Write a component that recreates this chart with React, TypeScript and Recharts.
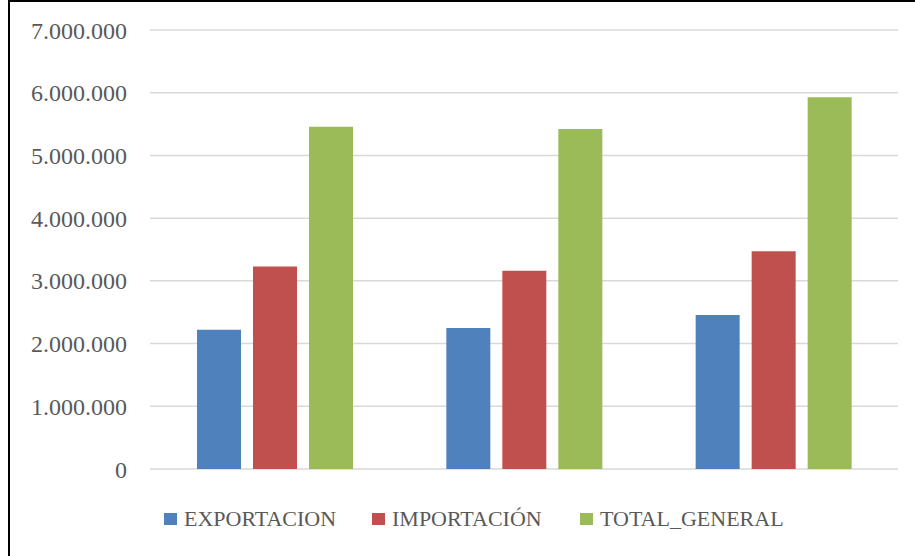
import React from 'react';
import { BarChart, Bar, XAxis, YAxis, CartesianGrid, Legend } from 'recharts';

const categories = ['Grupo 1', 'Grupo 2', 'Grupo 3'];
const exportacion = [2219000, 2250000, 2454000];
const importacion = [3227000, 3160000, 3472000];
const totalGeneral = [5456000, 5420000, 5926000];
const yTicks = [0, 1000000, 2000000, 3000000, 4000000, 5000000, 6000000, 7000000];

const series = [
  { key: 'EXPORTACION', color: '#4F81BD', values: exportacion },
  { key: 'IMPORTACIÓN', color: '#C0504D', values: importacion },
  { key: 'TOTAL_GENERAL', color: '#9BBB59', values: totalGeneral },
];

const data = categories.map((name, i) => {
  const row: { [k: string]: string | number } = { name };
  series.forEach(s => {
    row[s.key] = s.values[i];
  });
  return row;
});

const FONT = '"Liberation Serif", "Times New Roman", serif';
const TEXT = '#595959';

const formatNumber = (v: number) => v.toLocaleString('de-DE');

const LegendContent = ({ payload }: any) => (
  <div style={{ display: 'flex', alignItems: 'center', height: 26 }}>
    {(payload || []).map((entry: any) => (
      <div key={entry.value} style={{ display: 'flex', alignItems: 'center', width: 208 }}>
        <span style={{ width: 13, height: 12, backgroundColor: entry.color, marginRight: 7, display: 'inline-block' }} />
        <span style={{ fontFamily: FONT, fontSize: 22, color: TEXT, lineHeight: '26px' }}>{entry.value}</span>
      </div>
    ))}
  </div>
);

export default function App() {
  return (
    <div
      style={{
        position: 'absolute',
        left: 8,
        top: 0,
        width: 907,
        height: 556,
        borderTop: '2px solid #000',
        borderLeft: '2px solid #000',
        boxSizing: 'border-box',
        background: '#fff',
      }}
    >
      <BarChart
        width={905}
        height={554}
        data={data}
        margin={{ top: 28, right: 17, left: 0, bottom: 61 }}
        barGap={12}
        barCategoryGap="19%"
      >
        <CartesianGrid vertical={false} stroke="#D9D9D9" strokeWidth={1.5} />
        <XAxis dataKey="name" hide />
        <YAxis
          width={140}
          domain={[0, 7000000]}
          ticks={yTicks}
          interval={0}
          axisLine={false}
          tickLine={false}
          tickSize={0}
          tickMargin={23}
          tickFormatter={(v) => formatNumber(v as number)}
          tick={{ fill: TEXT, fontSize: 24, fontFamily: FONT }}
        />
        <Legend
          content={<LegendContent />}
          wrapperStyle={{ position: 'absolute', left: 154, top: 504, width: 700 }}
        />
        {series.map(s => (
          <Bar key={s.key} dataKey={s.key} name={s.key} fill={s.color} barSize={44} isAnimationActive={false} />
        ))}
      </BarChart>
    </div>
  );
}
